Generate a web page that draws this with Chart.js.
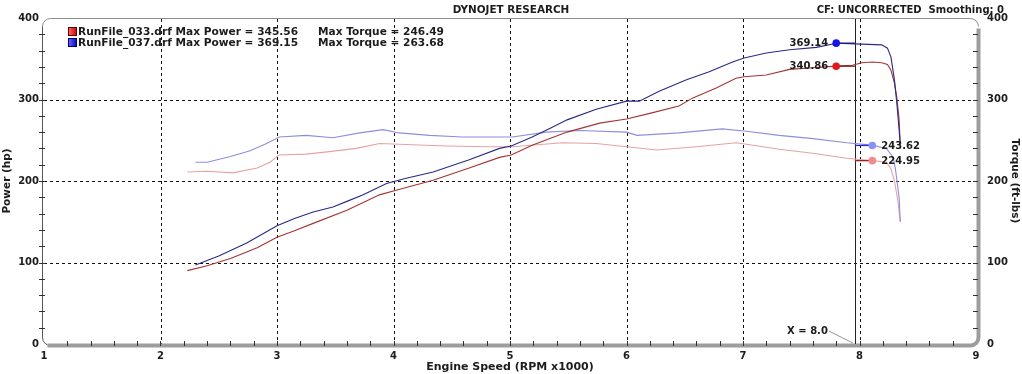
<!DOCTYPE html>
<html><head><meta charset="utf-8">
<script src="https://cdn.jsdelivr.net/npm/chart.js@4"></script>
<style>html,body{margin:0;padding:0;background:#fff}canvas{display:block}</style>
</head><body>
<canvas id="c" width="1022" height="374"></canvas>
<script>
// ---------- data ----------
const xTickValues = [1, 2, 3, 4, 5, 6, 7, 8, 9];
const yTickValues = [0, 100, 200, 300, 400];

const runNames = ['RunFile_033.drf', 'RunFile_037.drf'];
const maxPower = ['345.56', '369.15'];
const maxTorque = ['246.49', '263.68'];

const rpmPower033 = [2.23,2.40,2.60,2.83,3.00,3.15,3.31,3.60,3.88,4.03,4.34,4.65,4.91,5.01,5.19,5.49,5.77,6.00,6.20,6.45,6.57,6.77,6.94,7.01,7.20,7.40,7.60,7.80,7.94,8.02,8.11,8.19,8.24,8.27,8.30,8.32,8.34,8.35];
const power033    = [90,96,105,118,131,139,148,164,183,189,201,216,229,232,244,260,271,276,283,292,302,314,326,328,330,337,339,341,342,345,346,345,343,336,320,303,275,245];

const rpmPower037 = [2.30,2.50,2.74,3.00,3.15,3.31,3.48,3.60,3.74,3.94,4.10,4.34,4.65,4.91,5.01,5.19,5.35,5.49,5.74,6.00,6.11,6.28,6.51,6.71,6.91,7.01,7.20,7.40,7.63,7.80,8.02,8.19,8.24,8.27,8.30,8.32,8.34,8.35];
const power037    = [97,108,124,145,154,162,168,175,183,197,203,211,226,240,243,254,265,275,288,298,298,310,324,334,346,351,357,361,364,369,368,367,363,352,324,296,263,244];

const rpmTorque033 = [2.23,2.40,2.62,2.83,2.94,3.02,3.25,3.45,3.68,3.88,4.05,4.45,4.80,5.02,5.45,5.74,6.00,6.26,6.60,6.94,7.03,7.31,7.60,7.89,8.11,8.23,8.27,8.30,8.33,8.35];
const torque033    = [211,212,210,216,223,232,233,236,240,246,245,243,242,242,247,246,242,238,242,247,245,239,234,228,225,223,215,200,175,150];

const rpmTorque037 = [2.30,2.40,2.60,2.77,2.91,3.02,3.25,3.48,3.71,3.91,4.05,4.31,4.59,4.80,5.02,5.31,5.60,6.00,6.09,6.45,6.82,7.03,7.31,7.60,7.89,8.11,8.23,8.29,8.31,8.34,8.35];
const torque037    = [223,223,230,237,246,254,256,253,259,263,259,256,254,254,254,260,262,260,256,259,264,261,256,252,247,244,240,229,213,180,150];

const cursorRpm = 7.96;
const cursorLabel = 'X = 8.0';
const powerMarkerRpm = 7.80;
const powerMarkers = [340.86, 369.14];   // 033, 037
const torqueMarkerRpm = 8.11;
const torqueMarkers = [224.95, 243.62];  // 033, 037

// ---------- helpers ----------
const pts = (xs, ys) => xs.map((x, i) => ({x, y: ys[i]}));
const FAM = '"DejaVu Sans", Verdana, sans-serif';
const font = s => 'bold ' + s + 'px ' + FAM;
const TXT = '#1c1c1c';

function curve(label, xs, ys, color, axis) {
  return {label, data: pts(xs, ys), borderColor: color, borderWidth: 1.1,
    pointRadius: 0, tension: 0, yAxisID: axis, fill: false};
}
function marker(label, x1, x2, y, dotColor, lineColor, axis, dotFirst) {
  return {label, data: [{x: x1, y}, {x: x2, y}], borderColor: lineColor, borderWidth: 1.3,
    pointRadius: c => ((dotFirst ? c.dataIndex === 0 : c.dataIndex === 1) ? 3.8 : 0),
    pointBackgroundColor: dotColor, pointBorderColor: dotColor, pointBorderWidth: 0,
    tension: 0, yAxisID: axis, fill: false};
}

const datasets = [
  marker('pm033', powerMarkerRpm, cursorRpm, powerMarkers[0], '#e01818', '#8a1c1c', 'y', true),
  marker('pm037', powerMarkerRpm, cursorRpm, powerMarkers[1], '#1414e6', '#1c1c80', 'y', true),
  marker('tm033', cursorRpm, torqueMarkerRpm, torqueMarkers[0], '#f08c8c', '#a02424', 'y2', false),
  marker('tm037', cursorRpm, torqueMarkerRpm, torqueMarkers[1], '#8a90f4', '#2a2ad0', 'y2', false),
  curve('power037', rpmPower037, power037, '#2a2a86', 'y'),
  curve('power033', rpmPower033, power033, '#a43434', 'y'),
  curve('torque037', rpmTorque037, torque037, '#8e8edc', 'y2'),
  curve('torque033', rpmTorque033, torque033, '#e6a2a2', 'y2'),
];

const framePlugin = {
  id: 'frame',
  beforeDatasetsDraw(chart) {
    const {ctx, chartArea: a, scales: {x, y, y2}} = chart;
    ctx.save();
    // dashed grid
    ctx.strokeStyle = '#111'; ctx.lineWidth = 1; ctx.setLineDash([3, 3]);
    xTickValues.slice(1, -1).forEach(v => {
      const px = Math.round(x.getPixelForValue(v)) + 0.5;
      ctx.beginPath(); ctx.moveTo(px, a.top + 1); ctx.lineTo(px, a.bottom); ctx.stroke();
    });
    yTickValues.slice(1, -1).forEach(v => {
      const py = Math.round(y.getPixelForValue(v)) + 0.5;
      ctx.beginPath(); ctx.moveTo(a.left, py); ctx.lineTo(a.right, py); ctx.stroke();
    });
    ctx.setLineDash([]);
    const r = 8, L = a.left - 1.5, T = a.top + 0.5, R = a.right + 2.5, B = a.bottom + 1.5;
    // top line + left axis
    ctx.strokeStyle = '#8c8c8c'; ctx.lineWidth = 1;
    ctx.beginPath(); ctx.moveTo(L, B - r); ctx.lineTo(L, T + r); ctx.arcTo(L, T, L + r, T, r);
    ctx.lineTo(R - r, T); ctx.arcTo(R, T, R, T + r, r); ctx.stroke();
    ctx.strokeStyle = '#555';
    ctx.beginPath(); ctx.moveTo(L, T + r); ctx.lineTo(L, B - r); ctx.arcTo(L, B, L + r, B, r); ctx.stroke();
    // thick bottom / right bars
    ctx.strokeStyle = '#9d9d9d'; ctx.lineWidth = 4;
    ctx.beginPath(); ctx.moveTo(L + 5, B); ctx.lineTo(R - r, B); ctx.arcTo(R, B, R, B - r, r);
    ctx.lineTo(R, T + r + 2); ctx.stroke();
    // minor/major tick marks
    ctx.strokeStyle = '#333'; ctx.lineWidth = 1;
    for (let v = 1.2; v < 8.9; v += 0.2) {
      const px = Math.round(x.getPixelForValue(v)) + 0.5;
      ctx.beginPath(); ctx.moveTo(px, a.bottom - 3); ctx.lineTo(px, a.bottom + 2); ctx.stroke();
    }
    for (let v = 20; v < 400; v += 20) {
      const py = Math.round(y.getPixelForValue(v)) + 0.5;
      ctx.beginPath(); ctx.moveTo(a.left - 5, py); ctx.lineTo(a.left + 1, py); ctx.stroke();
      const py2 = Math.round(y2.getPixelForValue(v)) + 0.5;
      ctx.beginPath(); ctx.moveTo(a.right - 3, py2); ctx.lineTo(a.right + 2, py2); ctx.stroke();
    }
    // cursor
    const cx = Math.round(x.getPixelForValue(cursorRpm)) + 0.5;
    ctx.strokeStyle = '#222'; ctx.lineWidth = 1;
    ctx.beginPath(); ctx.moveTo(cx, a.top + 1); ctx.lineTo(cx, a.bottom); ctx.stroke();
    ctx.restore();
  },
  afterDraw(chart) {
    const {ctx, chartArea: a, scales: {x, y, y2}} = chart;
    ctx.save();
    ctx.fillStyle = TXT; ctx.textBaseline = 'middle';
    // titles
    ctx.font = font(10.4); ctx.textAlign = 'center';
    ctx.fillText('DYNOJET RESEARCH', 511, 10);
    ctx.font = font(10); ctx.textAlign = 'right';
    ctx.fillText('CF: UNCORRECTED  Smoothing: 0', 1004, 10);
    // legend
    ctx.font = font(10.6);
    const sq = [['#ff7070', '#c80000', '#5a0000'], ['#7070ff', '#0000c8', '#00005a']];
    [32, 43].forEach((cy, i) => {
      const g = ctx.createLinearGradient(68, 0, 77, 0);
      g.addColorStop(0, sq[i][0]); g.addColorStop(1, sq[i][1]);
      ctx.fillStyle = g; ctx.fillRect(68, cy - 5, 9, 9);
      ctx.strokeStyle = sq[i][2]; ctx.lineWidth = 1; ctx.strokeRect(68.5, cy - 4.5, 8, 8);
      ctx.fillStyle = TXT; ctx.textAlign = 'left';
      ctx.fillText(runNames[i] + ' Max Power = ' + maxPower[i], 78, cy);
      ctx.fillText('Max Torque = ' + maxTorque[i], 318, cy);
    });
    // marker labels
    ctx.font = font(10);
    const pxP = x.getPixelForValue(powerMarkerRpm), pxT = x.getPixelForValue(torqueMarkerRpm);
    ctx.textAlign = 'right';
    powerMarkers.forEach(v => ctx.fillText(v.toFixed(2), pxP - 8, y.getPixelForValue(v)));
    ctx.textAlign = 'left';
    torqueMarkers.forEach(v => ctx.fillText(v.toFixed(2), pxT + 9, y2.getPixelForValue(v) + 1));
    // cursor label
    const cx = x.getPixelForValue(cursorRpm);
    ctx.textAlign = 'right';
    ctx.fillText(cursorLabel, cx - 27, a.bottom - 13);
    ctx.strokeStyle = '#777'; ctx.lineWidth = 0.8;
    ctx.beginPath(); ctx.moveTo(cx - 26, a.bottom - 13); ctx.lineTo(cx - 2, a.bottom - 1); ctx.stroke();
    ctx.restore();
  }
};

const tickFont = {family: FAM, size: 10, weight: 'bold'};
const yTitleFont = {family: FAM, size: 10.5, weight: 'bold'};
const xTitleFont = {family: FAM, size: 11, weight: 'bold'};

new Chart(document.getElementById('c'), {
  type: 'line',
  data: {datasets},
  options: {
    responsive: false, animation: false, events: [],
    layout: {padding: {top: 18, left: 0, right: 0, bottom: 0}},
    plugins: {legend: {display: false}, tooltip: {enabled: false}},
    scales: {
      x: {type: 'linear', min: 1, max: 9,
        afterBuildTicks: s => { s.ticks = xTickValues.map(v => ({value: v})); },
        afterFit: s => { s.height = 30; },
        grid: {display: false, drawTicks: false}, border: {display: false},
        ticks: {font: tickFont, color: TXT, padding: 6, maxRotation: 0, autoSkip: false},
        title: {display: true, text: 'Engine Speed (RPM x1000)', font: xTitleFont, color: TXT, padding: {top: 0, bottom: 0}}},
      y: {type: 'linear', position: 'left', min: 0, max: 400,
        afterBuildTicks: s => { s.ticks = yTickValues.map(v => ({value: v})); },
        afterFit: s => { s.width = 44; },
        grid: {display: false, drawTicks: false}, border: {display: false},
        ticks: {font: tickFont, color: TXT, padding: 5},
        title: {display: true, text: 'Power (hp)', font: yTitleFont, color: TXT, padding: {top: 1, bottom: 0}}},
      y2: {type: 'linear', position: 'right', min: 0, max: 400,
        afterBuildTicks: s => { s.ticks = yTickValues.map(v => ({value: v})); },
        afterFit: s => { s.width = 46; },
        grid: {display: false, drawTicks: false}, border: {display: false},
        ticks: {font: tickFont, color: TXT, padding: 11},
        title: {display: true, text: 'Torque (ft-lbs)', font: yTitleFont, color: TXT, padding: {top: 1, bottom: 2}}}
    }
  },
  plugins: [framePlugin]
});
</script>
</body></html>
